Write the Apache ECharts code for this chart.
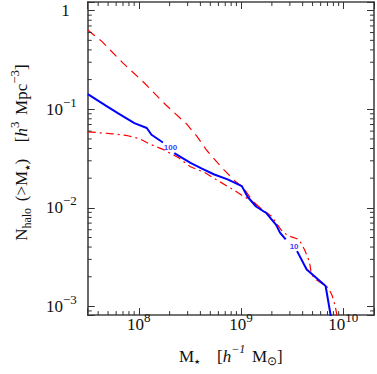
<!DOCTYPE html>
<html><head><meta charset="utf-8">
<script src="https://cdn.jsdelivr.net/npm/echarts@6/dist/echarts.min.js"></script>
<style>html,body{margin:0;padding:0;background:#fff}#c{width:377px;height:374px}</style>
</head><body><div id="c"></div>
<script>
// axis extents (log10 exponents)
const xExtentExp = [7.5, 10.3];
const yExtentExp = [-3.088, 0.088];
// major tick exponents (labelled)
const xTickExps = [8, 9, 10];
const yTickExps = [-3, -2, -1, 0];
// minor ticks
const xMinorTicks = [4e7,5e7,6e7,7e7,8e7,9e7, 2e8,3e8,4e8,5e8,6e8,7e8,8e8,9e8, 2e9,3e9,4e9,5e9,6e9,7e9,8e9,9e9];
const yMinorTicks = [9e-4, 2e-3,3e-3,4e-3,5e-3,6e-3,7e-3,8e-3,9e-3, 2e-2,3e-2,4e-2,5e-2,6e-2,7e-2,8e-2,9e-2, 2e-1,3e-1,4e-1,5e-1,6e-1,7e-1,8e-1,9e-1];

// blue solid (gaps where the count tags sit)
const massBlue = [3.166e7, 4.75e7, 6.28e7, 9.04e7, 1.195e8, 1.33e8, 1.72e8, '-', 2.22e8, 3.2e8, 4.14e8, 5.47e8, 7.38e8, 1.017e9, 1.157e9, 1.40e9, 1.775e9, 2.2e9, 2.40e9, 2.73e9, '-', 3.53e9, 4.38e9, 6.71e9, 7.95e9];
const nBlue    = [0.1426, 0.1088, 0.0907, 0.0724, 0.0646, 0.0551, 0.0460, '-', 0.0359, 0.0286, 0.0250, 0.0218, 0.01945, 0.0166, 0.01295, 0.01032, 0.00881, 0.00671, 0.0056, 0.00478, '-', 0.00364, 0.00237, 0.00161, 0.00058];

// red dashed
const massRedDash = [3.166e7, 4.27e7, 7.0e7, 1.12e8, 1.83e8, 2.94e8, 3.72e8, 4.6e8, 5.35e8, 6.77e8, 8.75e8, 1.04e9, 1.29e9, 1.56e9];
const nRedDash    = [0.636, 0.496, 0.294, 0.187, 0.111, 0.0707, 0.0527, 0.0384, 0.0320, 0.0244, 0.0186, 0.01623, 0.01183, 0.00986];

// red dash-dot
const massRedDot = [3.166e7, 5.52e7, 7.78e7, 1.007e8, 1.30e8, 1.72e8, 2.47e8, 3.2e8, 4.41e8, 6.08e8, 8.21e8, 1.04e9, 1.29e9, 1.56e9, 1.98e9, 2.45e9, 2.85e9, 3.68e9, 4.19e9, 4.66e9, 4.86e9, 5.19e9, 6.29e9, 7.15e9, 7.79e9, 8.3e9, 9.04e9];
const nRedDot    = [0.0590, 0.0564, 0.0539, 0.0504, 0.0440, 0.0392, 0.0320, 0.0261, 0.0228, 0.0186, 0.0155, 0.01324, 0.01156, 0.00986, 0.00823, 0.0060, 0.00524, 0.00478, 0.00373, 0.00284, 0.00216, 0.00193, 0.00169, 0.00154, 0.001285, 0.001025, 0.00065];

// count tags on the blue curve
const tagText = ['100', '10'];
const tagMass = [2.04e8, 3.30e9];
const tagN    = [0.0411, 0.00408];

const F = 'Liberation Serif';
const C = '#111';
const xMin = Math.pow(10, xExtentExp[0]), xMax = Math.pow(10, xExtentExp[1]);
const yMin = Math.pow(10, yExtentExp[0]), yMax = Math.pow(10, yExtentExp[1]);
const zip = (a, b) => a.map((v, i) => [v, b[i]]);

const rich = {
  b:   {fontFamily: F, fontSize: 17, lineHeight: 17, color: C},
  one: {fontFamily: F, fontSize: 17, lineHeight: 17, color: C},
  pad: {width: 7, lineHeight: 17},
  s:   {fontFamily: F, fontSize: 13, lineHeight: 13, color: C, padding: [0, 0, 14, 0]},
  i:   {fontFamily: F, fontSize: 17, lineHeight: 17, color: C, fontStyle: 'italic'},
  si:  {fontFamily: F, fontSize: 12, lineHeight: 12, color: C, fontStyle: 'italic', padding: [0, 0, 14, 0]},
  sub: {fontFamily: F, fontSize: 12, lineHeight: 12, color: C, padding: [10, 0, 0, 0]},
  st:  {fontFamily: 'DejaVu Sans', fontSize: 7, lineHeight: 7, color: C, padding: [12, 0, 0, 0]}
};

function expLabel(exps) {
  return function (v) {
    const l = Math.log10(v);
    const e = Math.round(l);
    if (Math.abs(l - e) > 1e-6 || exps.indexOf(e) < 0) return '';
    if (e === 0) return '{one|1}{pad| }';
    return '{b|10}{s|' + (e < 0 ? '\u2212' + (-e) : e) + '}';
  };
}

const axisLine = {show: true, lineStyle: {color: '#444', width: 1.6}};
const majorTick = {show: true, inside: true, length: 7, lineStyle: {color: '#333', width: 1}};

function tickSeries(values, isX) {
  return {
    type: 'custom', xAxisIndex: 0, yAxisIndex: 0, silent: true, clip: false, z: 5,
    data: values.map(v => isX ? [v, yMin] : [xMin, v]),
    renderItem: function (params, api) {
      const st = {stroke: '#333', lineWidth: 1};
      if (isX) {
        const v = api.value(0);
        const b = api.coord([v, yMin]), t = api.coord([v, yMax]);
        return {type: 'group', children: [
          {type: 'line', shape: {x1: b[0], y1: b[1], x2: b[0], y2: b[1] - 4}, style: st},
          {type: 'line', shape: {x1: t[0], y1: t[1], x2: t[0], y2: t[1] + 4}, style: st}
        ]};
      } else {
        const v = api.value(1);
        const l = api.coord([xMin, v]), r = api.coord([xMax, v]);
        return {type: 'group', children: [
          {type: 'line', shape: {x1: l[0], y1: l[1], x2: l[0] + 4, y2: l[1]}, style: st},
          {type: 'line', shape: {x1: r[0], y1: r[1], x2: r[0] - 4, y2: r[1]}, style: st}
        ]};
      }
    }
  };
}

const chart = echarts.init(document.getElementById('c'), null, {renderer: 'svg'});
chart.setOption({
  animation: false,
  backgroundColor: '#fff',
  grid: {left: 75, right: 1, top: 2, bottom: 49},
  xAxis: [{
    type: 'log', min: xMin, max: xMax, position: 'bottom',
    axisLine: axisLine, axisTick: majorTick, splitLine: {show: false},
    axisLabel: {margin: 1, formatter: expLabel(xTickExps), rich: rich, showMinLabel: true, showMaxLabel: true},
    name: '{b|M}{st|\u2605}     {b|[}{i|h}{si|\u22121}  {b|M}{sub|\u2299}{b|]}',
    nameLocation: 'middle', nameGap: 24,
    nameTextStyle: {rich: rich}
  }, {
    type: 'log', min: xMin, max: xMax, position: 'top',
    axisLine: axisLine, axisTick: majorTick, splitLine: {show: false}, axisLabel: {show: false}
  }],
  yAxis: [{
    type: 'log', min: yMin, max: yMax, position: 'left',
    axisLine: axisLine, axisTick: majorTick, splitLine: {show: false},
    axisLabel: {margin: 11, formatter: expLabel(yTickExps), rich: rich},
    name: '{b|N}{sub|halo}  {b|(>M}{st|\u2605}{b|)}     {b|[}{i|h}{s|3}  {b|Mpc}{s|\u22123}{b|]}',
    nameLocation: 'middle', nameGap: 49,
    nameTextStyle: {rich: rich, padding: [0, 0, 0, 12]}
  }, {
    type: 'log', min: yMin, max: yMax, position: 'right',
    axisLine: axisLine, axisTick: majorTick, splitLine: {show: false}, axisLabel: {show: false}
  }],
  series: [
    {type: 'line', name: 'dashdot', data: zip(massRedDot, nRedDot), showSymbol: false, symbol: 'none',
      lineStyle: {color: '#ff0000', width: 1.2, type: [8, 4, 2, 4]}, z: 2},
    {type: 'line', name: 'dashed', data: zip(massRedDash, nRedDash), showSymbol: false, symbol: 'none',
      lineStyle: {color: '#ff0000', width: 1.2, type: [9, 6]}, z: 2},
    {type: 'line', name: 'blue', data: zip(massBlue, nBlue), showSymbol: false, symbol: 'none', connectNulls: false,
      lineStyle: {color: '#0000ff', width: 2}, z: 3},
    {type: 'scatter', data: zip(tagMass, tagN), symbol: 'rect', symbolSize: 1, itemStyle: {color: 'rgba(0,0,0,0)'}, z: 6,
      label: {show: true, position: 'inside', formatter: p => tagText[p.dataIndex],
        fontFamily: 'Liberation Sans', fontWeight: 'bold', fontSize: 8, color: '#0000ff'}},
    tickSeries(xMinorTicks, true),
    tickSeries(yMinorTicks, false)
  ]
});
</script></body></html>
